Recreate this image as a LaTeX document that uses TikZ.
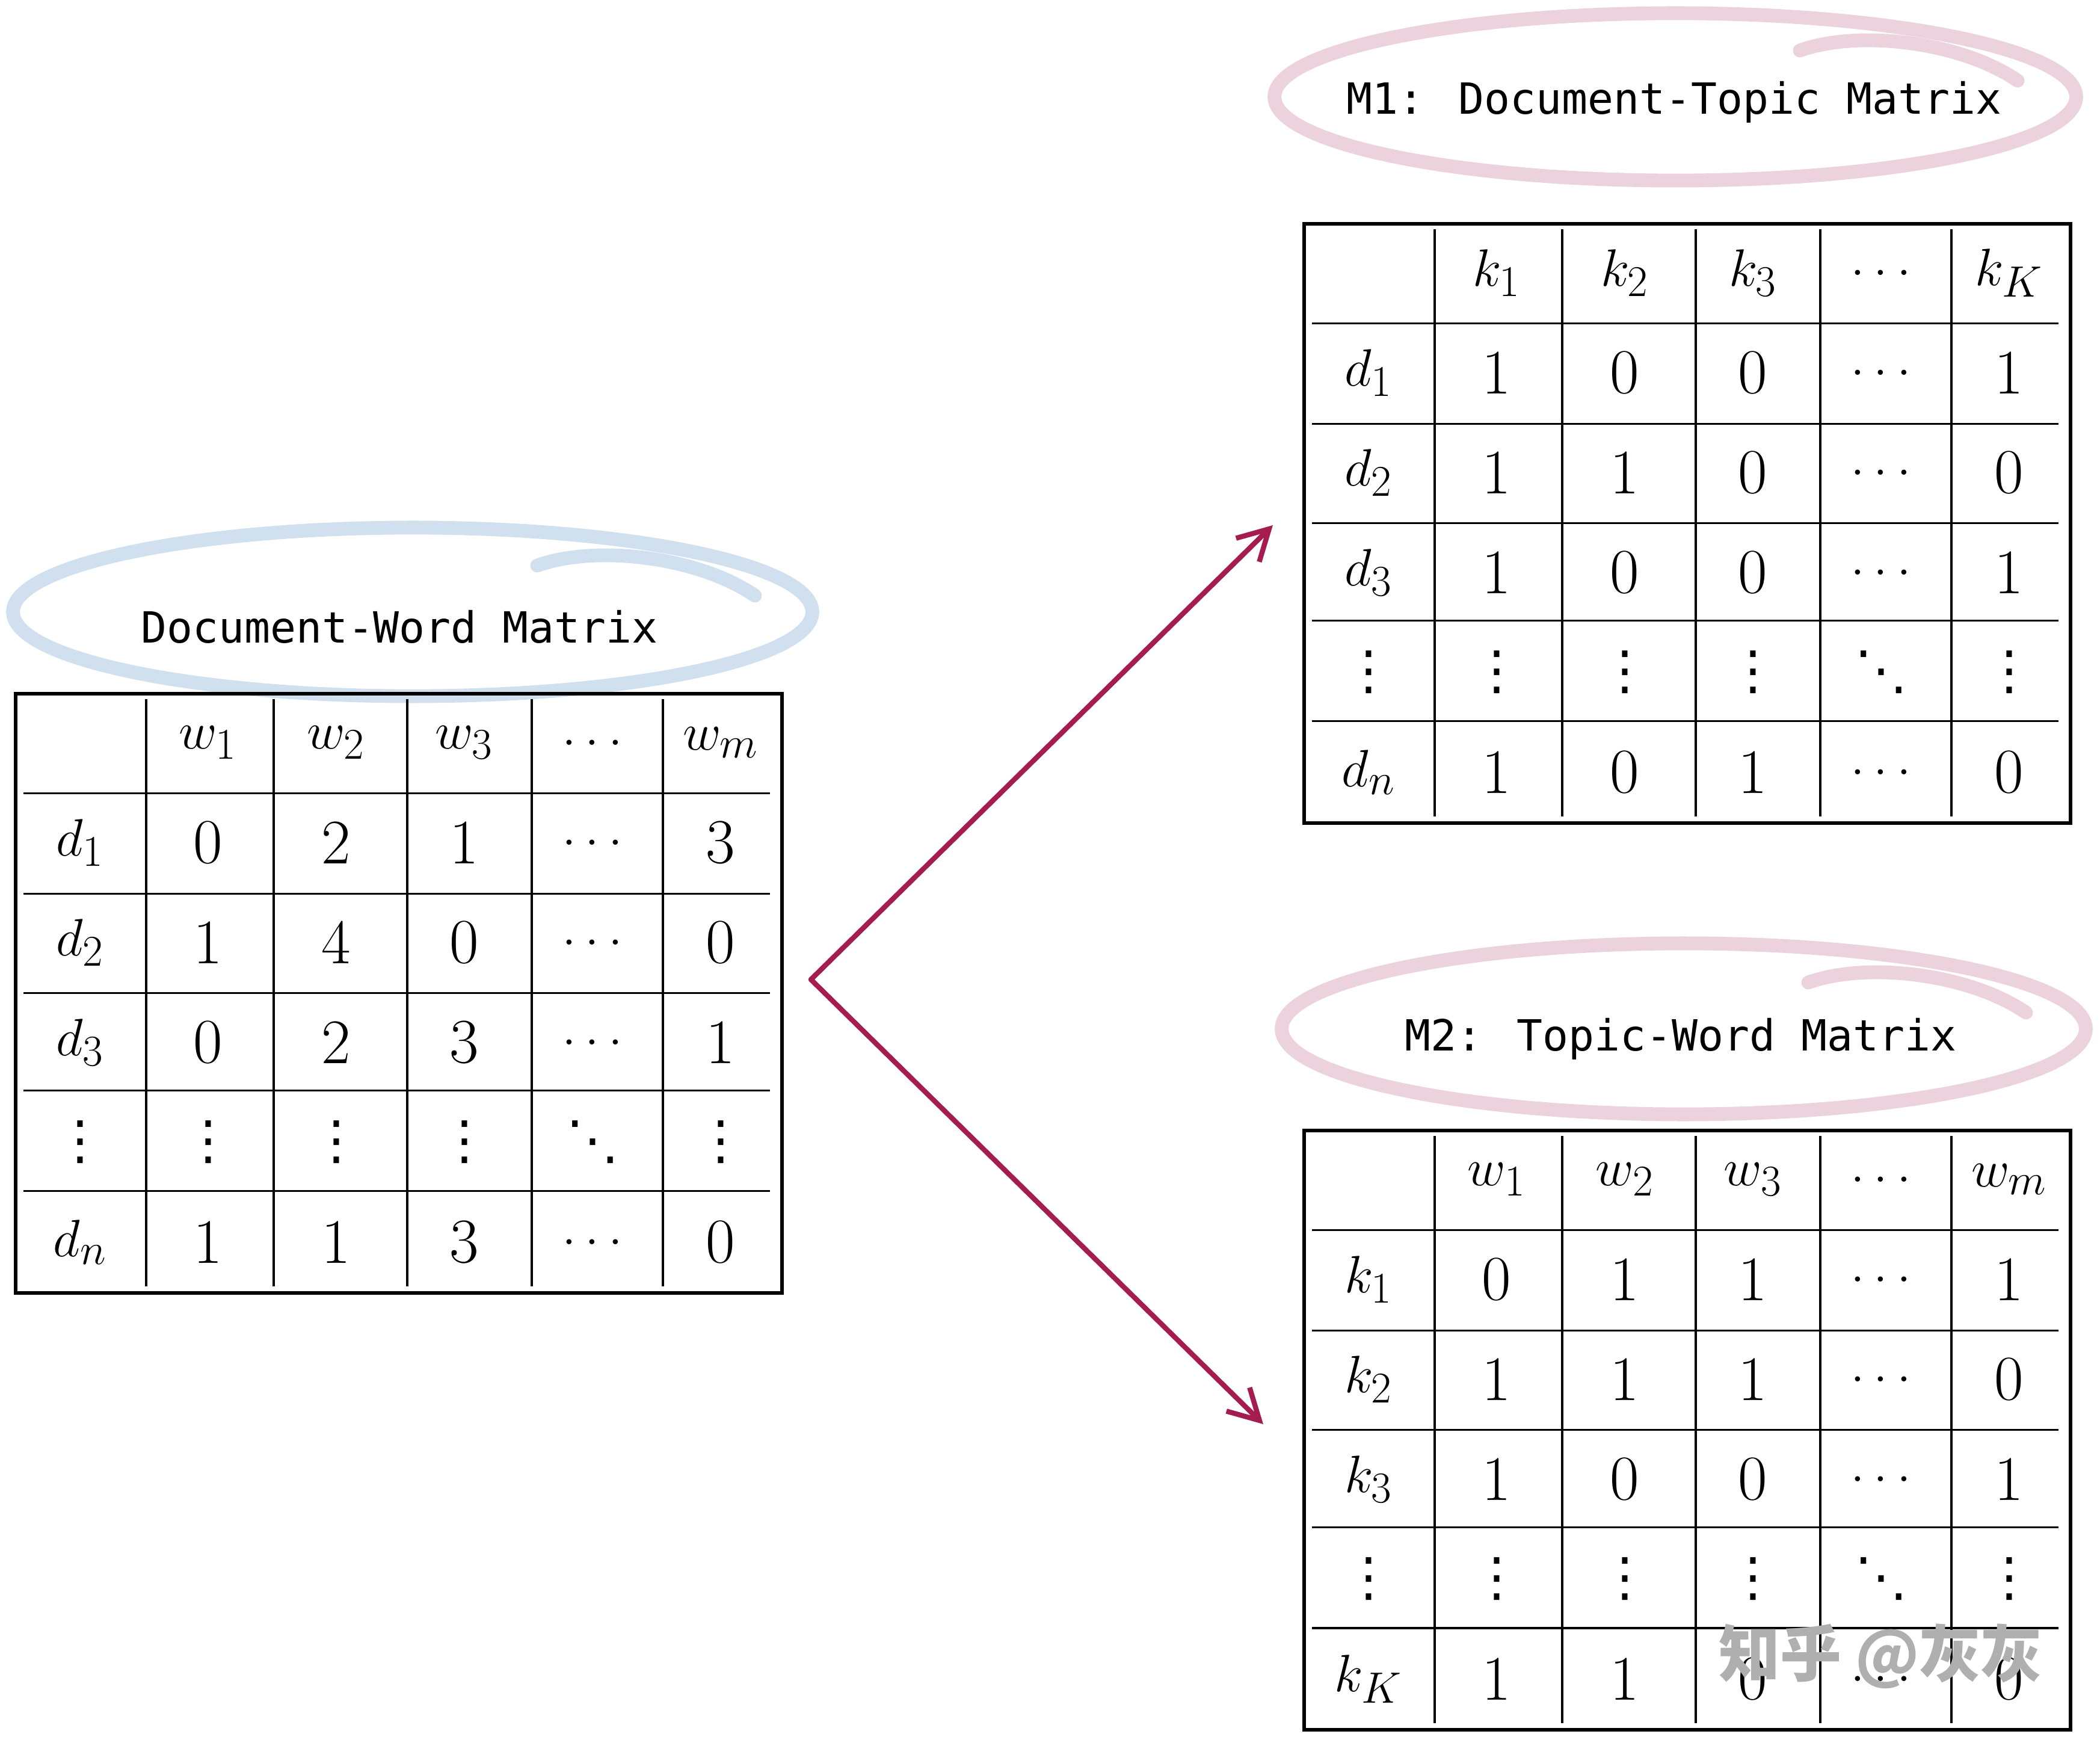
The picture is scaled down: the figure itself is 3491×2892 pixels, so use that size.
\documentclass[tikz,border=0pt]{standalone}
\usepackage{fontspec}
\usepackage{tikz}
\usetikzlibrary{arrows.meta,positioning,calc}
\newfontfamily\codefont{DejaVu Sans Mono}
\newfontfamily\symfont{DejaVu Sans}
\newfontfamily\cjkfont{Noto Sans CJK SC}
\newcommand\vdotcell{{\symfont\fontsize{25}{28}\selectfont ⋮}}
\newcommand\ddotcell{{\symfont\fontsize{25}{28}\selectfont ⋱}}
\definecolor{ringblue}{RGB}{208,224,238}
\definecolor{ringpink}{RGB}{236,210,220}
\definecolor{crimson}{RGB}{165,28,80}
\definecolor{markgray}{RGB}{175,175,175}
\tikzset{
  frame/.style={rectangle, draw=black, line width=1.8pt, minimum width=12.73cm, minimum height=9.96cm, inner sep=0pt},
  gridline/.style={draw=black, line width=1.1pt},
  cell/.style={font=\fontsize{30}{34}\selectfont, inner sep=0pt},
  title/.style={font=\codefont\fontsize{20.3}{24}\selectfont, inner sep=0pt, anchor=base},
  ring/.style={line width=6.5pt, line cap=round},
  arrow/.style={-{Straight Barb[length=5mm, width=5.5mm]}, line width=2.4pt, crimson, line cap=round, line join=round},
  watermark/.style={font=\cjkfont\bfseries\fontsize{29}{32}\selectfont, text=markgray},
}

\begin{document}
\begin{tikzpicture}[x=0.01cm, y=-0.01cm]
\fill[white] (0,0) rectangle (3491,2892);
\useasboundingbox (0,0) rectangle (3491,2892);

% ---- rings round the titles ----
\draw[ring, ringblue] (686,1017) ellipse [x radius=6.64cm, y radius=1.40cm];
\draw[ring, ringblue] (893,940) .. controls (990,905) and (1160,925) .. (1255,990);
\draw[ring, ringpink] (2785,161) ellipse [x radius=6.66cm, y radius=1.39cm];
\draw[ring, ringpink] (2992,84) .. controls (3089,49) and (3259,69) .. (3354,134);
\draw[ring, ringpink] (2799,1710) ellipse [x radius=6.68cm, y radius=1.42cm];
\draw[ring, ringpink] (3006,1633) .. controls (3103,1598) and (3273,1618) .. (3368,1683);

\node[title] (dwname) at (664,1069) {Document-Word Matrix};
\node[title] (m1name) at (2783,190) {M1: Document-Topic Matrix};
\node[title] (m2name) at (2794,1746) {M2: Topic-Word Matrix};

% ---- the three tables ----
\node[frame] (dw) at (663,1651) {};
\node[frame] (m1) at (2805,870) {};
\node[frame] (m2) at (2805,2377) {};

\begin{scope}[shift={(dw.north west)}]
  \foreach \x in {220,432,654,861,1079}
    \draw[gridline] (\x,12) -- (\x,988);
  \foreach \y in {169,336,501,663,830}
    \draw[gridline] (16,\y) -- (1257,\y);
  \foreach \t [count=\c] in {$w_1$,$w_2$,$w_3$,$\ldots$,$w_m$}
    \node[cell] (dw-0-\c) at ({110+213*\c},85) {\t};
  \foreach \row [count=\r] in {{$d_1$,0,2,1,$\ldots$,3},{$d_2$,1,4,0,$\ldots$,0},{$d_3$,0,2,3,$\ldots$,1},
      {\vdotcell,\vdotcell,\vdotcell,\vdotcell,\ddotcell,\vdotcell},{$d_n$,1,1,3,$\ldots$,0}}
    \foreach \t [count=\c from 0] in \row
      \node[cell] (dw-\r-\c) at ({110+213*\c},{85+166*\r}) {\t};
\end{scope}

\begin{scope}[shift={(m1.north west)}]
  \foreach \x in {220,432,654,861,1079}
    \draw[gridline] (\x,12) -- (\x,988);
  \foreach \y in {169,336,501,663,830}
    \draw[gridline] (16,\y) -- (1257,\y);
  \foreach \t [count=\c] in {$k_1$,$k_2$,$k_3$,$\ldots$,$k_K$}
    \node[cell] (m1-0-\c) at ({110+213*\c},85) {\t};
  \foreach \row [count=\r] in {{$d_1$,1,0,0,$\ldots$,1},{$d_2$,1,1,0,$\ldots$,0},{$d_3$,1,0,0,$\ldots$,1},
      {\vdotcell,\vdotcell,\vdotcell,\vdotcell,\ddotcell,\vdotcell},{$d_n$,1,0,1,$\ldots$,0}}
    \foreach \t [count=\c from 0] in \row
      \node[cell] (m1-\r-\c) at ({110+213*\c},{85+166*\r}) {\t};
\end{scope}

\begin{scope}[shift={(m2.north west)}]
  \foreach \x in {220,432,654,861,1079}
    \draw[gridline] (\x,12) -- (\x,988);
  \foreach \y in {169,336,501,663,830}
    \draw[gridline] (16,\y) -- (1257,\y);
  \foreach \t [count=\c] in {$w_1$,$w_2$,$w_3$,$\ldots$,$w_m$}
    \node[cell] (m2-0-\c) at ({110+213*\c},85) {\t};
  \foreach \row [count=\r] in {{$k_1$,0,1,1,$\ldots$,1},{$k_2$,1,1,1,$\ldots$,0},{$k_3$,1,0,0,$\ldots$,1},
      {\vdotcell,\vdotcell,\vdotcell,\vdotcell,\ddotcell,\vdotcell},{$k_K$,1,1,0,$\ldots$,0}}
    \foreach \t [count=\c from 0] in \row
      \node[cell] (m2-\r-\c) at ({110+213*\c},{85+166*\r}) {\t};
\end{scope}

% ---- arrows ----
\coordinate (fork) at ($(dw.east)+(45,-23)$);
\coordinate (m1in) at ($(m1.west)+(-49,3)$);
\coordinate (m2in) at ($(m2.west)+(-65,-10)$);
\draw[arrow] (fork) -- (m1in);
\draw[arrow] (fork) -- (m2in);

\node[watermark] (mark) at (3126,2753) {知乎 @灰灰};
\end{tikzpicture}
\end{document}
